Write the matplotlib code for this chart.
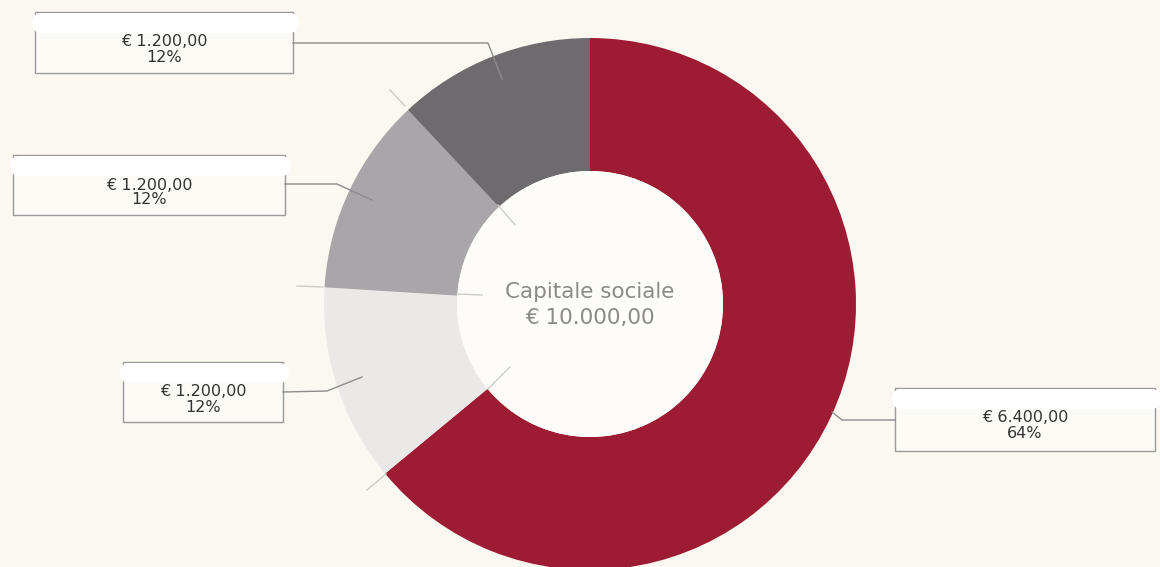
import numpy as np
import matplotlib.pyplot as plt
from matplotlib.patches import Circle, Rectangle, FancyBboxPatch

W, H = 1160, 567

# data
values = [6400, 1200, 1200, 1200]
colors = ['#9d1c34', '#ebe9e8', '#aaa5a8', '#6f6a6d']
total_label = 'Capitale sociale'
total_value = sum(values)


def euro(v):
    s = f"{v:,.2f}"
    return s.replace(',', 'X').replace('.', ',').replace('X', '.')


def Y(py):
    # pixel row (from top) -> data y
    return H - py


fig = plt.figure(figsize=(W / 100, H / 100), dpi=100)
fig.patch.set_facecolor('#faf8f0')
ax = fig.add_axes([0, 0, 1, 1])
ax.set_facecolor('#faf8f0')

cx, cy = 590, Y(304)
R = 266
ax.pie(values, colors=colors, center=(cx, cy), radius=R, startangle=90,
       counterclock=False, wedgeprops=dict(width=R * 0.5, linewidth=0))
ax.add_patch(Circle((cx, cy), R * 0.5, facecolor='#fdfcf8', edgecolor='none', zorder=3))

ax.text(cx, Y(292), total_label, ha='center', va='center', fontsize=15.5, color='#8a8a8a', zorder=4)
ax.text(cx, Y(318), '€ ' + euro(total_value), ha='center', va='center', fontsize=15.5,
        color='#8a8a8a', zorder=4)

# label boxes: (x0, y0, x1, y1) in pixels, one per slice
boxes = [(895, 388, 1155, 451), (123, 362, 283, 422), (13, 155, 285, 215), (35, 12, 293, 73)]
leaders = [
    [(895, 420), (842, 420), (832, 412)],
    [(283, 392), (327, 391), (362, 377)],
    [(285, 184), (337, 184), (372, 200)],
    [(293, 43), (488, 43), (502, 79)],
]
for v, (x0, y0, x1, y1), pts in zip(values, boxes, leaders):
    ax.add_patch(Rectangle((x0, Y(y1)), x1 - x0, y1 - y0, facecolor='#fbfaf5',
                           edgecolor='#9a9a9a', linewidth=1, zorder=2))
    xs = [p[0] for p in pts]
    ys = [Y(p[1]) for p in pts]
    ax.plot(xs, ys, color='#8c8c8c', linewidth=1, zorder=2)
    xc = (x0 + x1) / 2
    ax.text(xc, Y(y0 + 30), '€ ' + euro(v), ha='center', va='center', fontsize=11.5, color='#333333', zorder=5)
    ax.text(xc, Y(y0 + 45), f"{v / total_value * 100:.0f}%", ha='center', va='center', fontsize=11.5,
            color='#333333', zorder=5)
    # white blot over the first line of the box
    ax.add_patch(FancyBboxPatch((x0 - 3, Y(y0 + 21)), x1 - x0 + 9, 20,
                                boxstyle='round,pad=0,rounding_size=10', facecolor='white',
                                edgecolor='none', zorder=6))

# faint continuation lines
faint = [[(390, 90), (405, 106)], [(498, 205), (515, 225)], [(297, 286), (323, 287)],
         [(457, 294), (482, 295)], [(367, 490), (386, 474)], [(488, 389), (510, 367)]]
for pts in faint:
    ax.plot([p[0] for p in pts], [Y(p[1]) for p in pts], color='#cfccc5', linewidth=1, zorder=4)

ax.set_xlim(0, W)
ax.set_ylim(0, H)
ax.set_aspect('equal')
ax.axis('off')

fig.savefig('out.png', dpi=100, facecolor=fig.get_facecolor())
